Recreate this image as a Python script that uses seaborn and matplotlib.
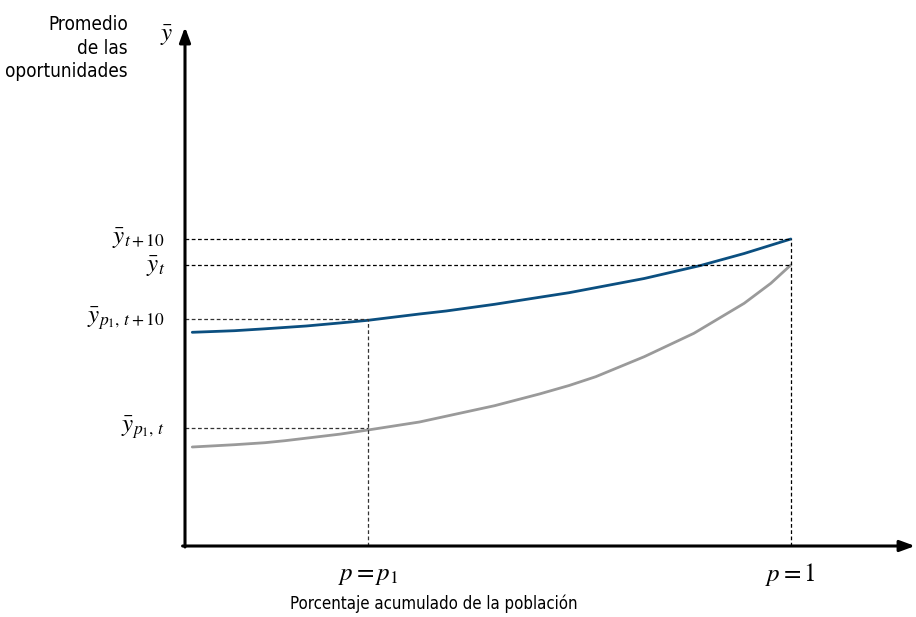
import matplotlib
matplotlib.use("Agg")
import matplotlib.pyplot as plt
import seaborn as sns
import pandas as pd
from matplotlib import font_manager

# ---- data ----
p_t10 = [0.012, 0.082, 0.132, 0.200, 0.255, 0.302, 0.387, 0.431, 0.511, 0.585,
         0.634, 0.758, 0.851, 0.923, 1.0]
y_t10 = [2.137, 2.153, 2.172, 2.200, 2.230, 2.257, 2.32, 2.35, 2.417, 2.487,
         2.533, 2.675, 2.805, 2.925, 3.07]
p_t = [0.012, 0.082, 0.132, 0.165, 0.255, 0.302, 0.387, 0.511, 0.585, 0.634,
       0.678, 0.758, 0.840, 0.923, 0.967, 1.0]
y_t = [0.99, 1.013, 1.033, 1.053, 1.118, 1.16, 1.24, 1.403, 1.52, 1.605,
       1.693, 1.893, 2.127, 2.427, 2.627, 2.81]
p1 = 0.302
ybar_t10 = 3.07
ybar_t = 2.81
ybar_p1_t10 = 2.27
ybar_p1_t = 1.18

sns.set_style("white")
plt.rcParams["font.family"] = ["DejaVu Sans"]
plt.rcParams["mathtext.fontset"] = "stix"
plt.rcParams["text.color"] = "black"

cond = font_manager.FontProperties(family="DejaVu Sans", stretch="condensed",
                                   weight="normal", style="normal")

fig = plt.figure(figsize=(9.16, 6.17), dpi=100)
ax = fig.add_axes([185 / 916, 71 / 617, 727 / 916, 516 / 617])
ax.set_xlim(0, 1.2)
ax.set_ylim(0, 5.16)
for s in ax.spines.values():
    s.set_visible(False)
ax.set_xticks([])
ax.set_yticks([])

df1 = pd.DataFrame({"p": p_t10, "y": y_t10})
df2 = pd.DataFrame({"p": p_t, "y": y_t})
sns.lineplot(data=df1, x="p", y="y", ax=ax, color="#0b4f80", lw=2.0)
sns.lineplot(data=df2, x="p", y="y", ax=ax, color="#9a9a9a", lw=2.0)
ax.set_xlabel("")
ax.set_ylabel("")

dash = (0, (3, 2))
ax.plot([0, 1], [ybar_t10, ybar_t10], color="black", lw=0.9, ls=dash)
ax.plot([0, 1], [ybar_t, ybar_t], color="black", lw=0.9, ls=dash)
ax.plot([1, 1], [0, ybar_t10], color="black", lw=0.9, ls=dash)
ax.plot([0, p1], [ybar_p1_t10, ybar_p1_t10], color="#333333", lw=0.9, ls=dash)
ax.plot([0, p1], [ybar_p1_t, ybar_p1_t], color="#333333", lw=0.9, ls=dash)
ax.plot([p1, p1], [0, ybar_p1_t10], color="#333333", lw=0.9, ls=dash)

# axes with arrows
ax.annotate("", xy=(1.205, 0), xytext=(-0.004, 0), annotation_clip=False,
            arrowprops=dict(arrowstyle="-|>,head_length=0.9,head_width=0.33",
                            lw=2.2, color="black", shrinkA=0, shrinkB=0))
ax.annotate("", xy=(0, 5.19), xytext=(0, -0.01), annotation_clip=False,
            arrowprops=dict(arrowstyle="-|>,head_length=0.9,head_width=0.33",
                            lw=2.2, color="black", shrinkA=0, shrinkB=0))

lx = -0.033
fs = 18
ax.text(lx, ybar_t10, r"$\bar{y}_{t+10}$", ha="right", va="center", fontsize=fs)
ax.text(lx, ybar_t - 0.02, r"$\bar{y}_{t}$", ha="right", va="center", fontsize=fs)
ax.text(lx, ybar_p1_t10, r"$\bar{y}_{p_1,\,t+10}$", ha="right", va="center", fontsize=fs)
ax.text(lx, ybar_p1_t, r"$\bar{y}_{p_1,\,t}$", ha="right", va="center", fontsize=fs)
ax.text(-0.03, 5.10, r"$\bar{y}$", ha="center", va="center", fontsize=fs)

ax.text(p1, -0.29, r"$p=p_1$", ha="center", va="center", fontsize=18)
ax.text(1.0, -0.29, r"$p=1$", ha="center", va="center", fontsize=18)

t1 = fig.text(434 / 916, 1 - 604 / 617, "Porcentaje acumulado de la población",
              ha="center", va="center", fontproperties=cond, fontsize=14)
t2 = fig.text(128 / 916, 1 - 48 / 617, "Promedio\nde las\noportunidades",
              ha="right", va="center", fontproperties=cond, fontsize=14,
              linespacing=1.3)

# fit the sans texts to (slightly above) the reference widths
fig.canvas.draw()
r = fig.canvas.get_renderer()
w1 = t1.get_window_extent(r).width
t1.set_fontsize(14 * 290 / w1)
w2 = t2.get_window_extent(r).width
t2.set_fontsize(14 * 124 / w2)

fig.savefig("out.png", dpi=100)
